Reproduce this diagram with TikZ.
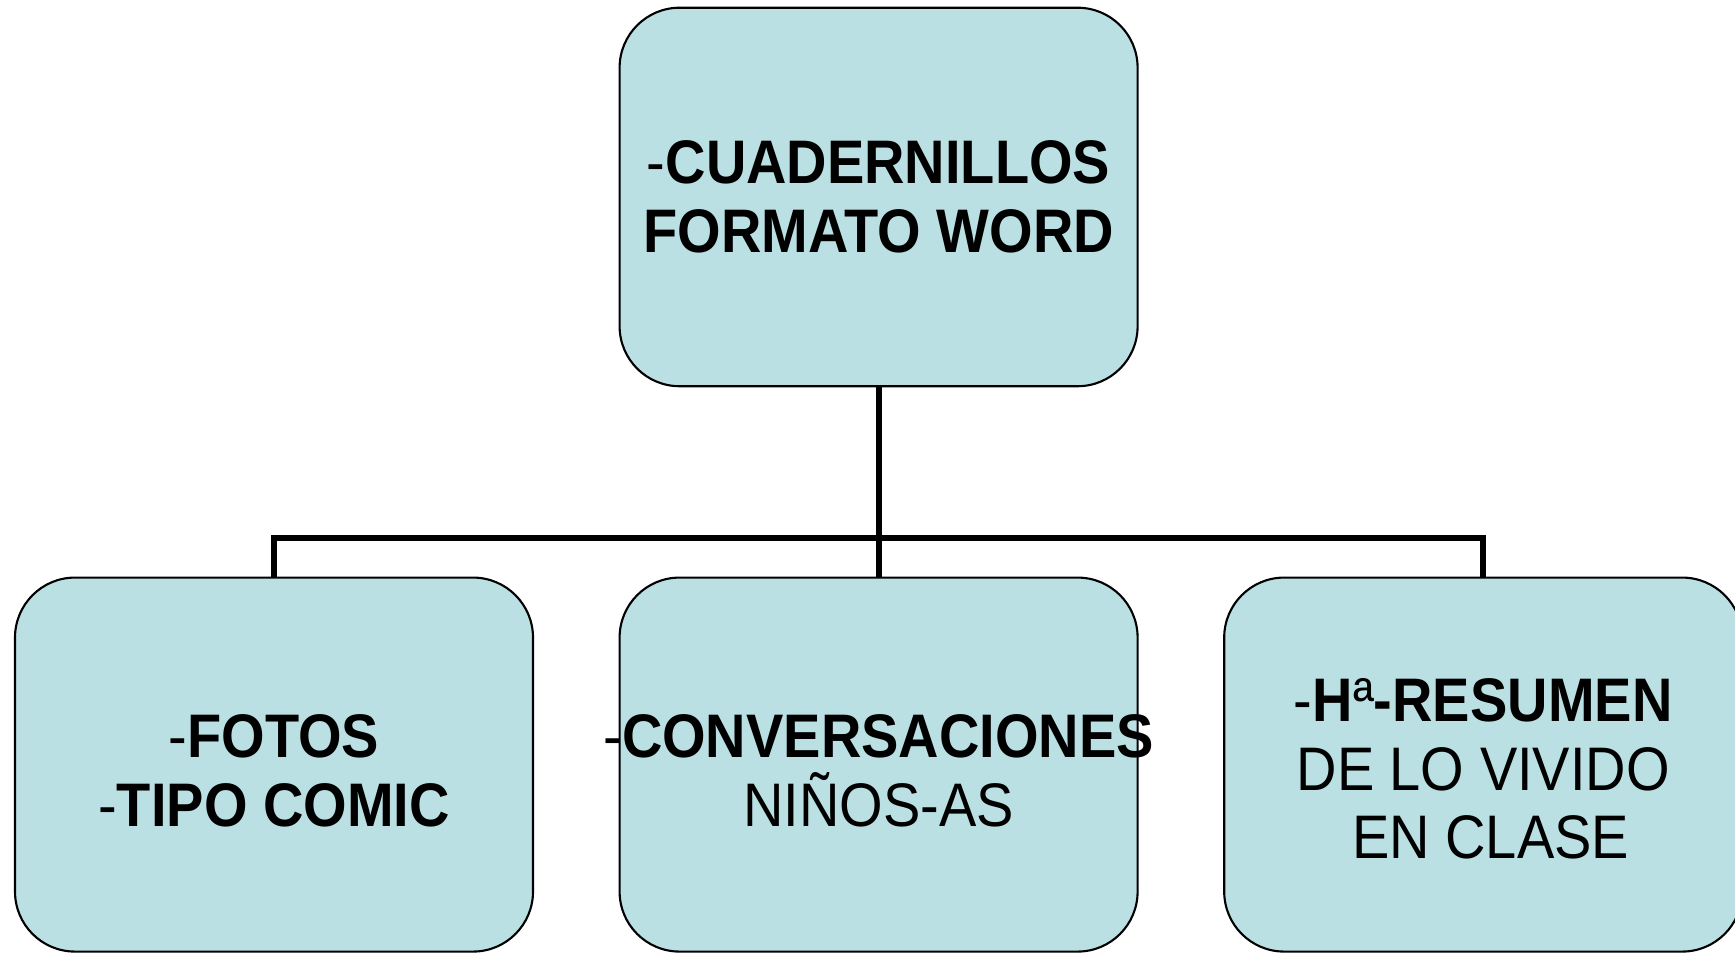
\documentclass[tikz,border=0pt]{standalone}
\usepackage{fontspec}
\setmainfont[FakeStretch=0.91]{Liberation Sans}
\usepackage{tikz}

\definecolor{boxblue}{RGB}{186,224,228}
\tikzset{
  topic/.style={draw=black, line width=0.6pt, fill=boxblue, rounded corners=0.6cm,
    minimum width=5.18cm, align=center, font=\fontsize{17.5}{19.5}\selectfont},
  bus/.style={line width=1.7pt}
}
\newcommand{\hy}{\textmd{-}}

\begin{document}
\begin{tikzpicture}
\clip (0,0) rectangle (17.35,9.54);

%% boxes
\node[topic, minimum height=3.785cm] (cuad) at (8.786,7.57)
  {\hy\textbf{CUADERNILLOS}\\ \textbf{FORMATO WORD}};
\node[topic, minimum height=3.74cm] (fotos) at (2.74,1.894)
  {\rule{0pt}{0.55cm}\hy\textbf{FOTOS}\\ \hy\textbf{TIPO COMIC}};
\node[topic, minimum height=3.74cm] (conv) at (8.786,1.894)
  {\rule{0pt}{0.55cm}\makebox[0pt]{\hy\textbf{CONVERSACIONES}}\\ NIÑOS-AS};
\node[topic, minimum height=3.74cm] (res) at (14.832,1.894)
  {\rule{0pt}{0.52cm}\hy\textbf{H}ª\textbf{-RESUMEN}\\ DE LO VIVIDO\\ \hspace*{0.15cm}EN CLASE};

%%% edges
\coordinate (j) at (cuad.south |- 0,4.162);
\draw[bus] (cuad.south) -- (j);
\draw[bus] (fotos.north) |- (j) -| (res.north);
\draw[bus] (j) -- (conv.north);

\end{tikzpicture}
\end{document}
